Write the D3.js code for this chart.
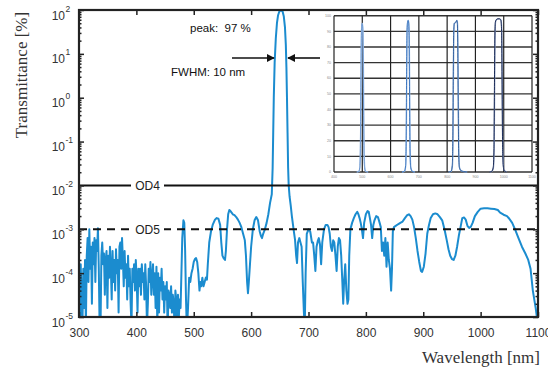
<!DOCTYPE html>
<html><head><meta charset="utf-8">
<script src="https://cdn.jsdelivr.net/npm/d3@7"></script>
<style>body{margin:0;background:#fff}svg{display:block}</style>
</head><body><svg id="c" width="548" height="370"></svg>
<script>
// ---------- data ----------
const wavelengthNm = [300,301.5,303,304.5,306,307.5,309,310.5,312,313.5,315,316.5,318,319.5,321,322.5,324,325.5,327,328.5,330,331.5,333,334.5,336,337.5,339,340.5,342,343.5,345,346.5,348,349.5,351,352.5,354,355.5,357,358.5,360,361.5,363,364.5,366,367.5,369,370.5,372,373.5,375,376.5,378,379.5,381,382.5,384,385.5,387,388.5,390,391.5,393,394.5,396,397.5,399,400.5,402,403.5,405,406.5,408,409.5,411,412.5,414,415.5,417,418.5,420,421.5,423,424.5,426,427.5,429,430.5,432,433.5,435,436.5,438,439.5,441,442.5,444,445.5,447,448.5,450,451.5,453,454.5,456,457.5,459,460.5,462,463.5,465,466.5,468,469.5,471,472.5,474,475.5,477,478.5,480,482,483.5,485,486.5,488,490,492,494,496,498,500,502,504,506,508,510,511.5,513,515,517,519,521,523,524.5,527,530,533,537,540,543,546,548,550,552,554.5,556,558,560,562,564,566,568,571,574,577,580,583,586,589,591,593,594.5,596,598,600,603,606,609,612,615,617,619,621,624,627,630,633,636,637.5,638.5,639.5,641,643,645,647,649,651,653,655,657,659,660.5,661.5,662.5,663.5,664.5,665.5,667,669,671,674,676.5,678.5,680,681.7,684,686,688,690,692,693.5,695,697,700,703,706,708,710,712,714,716.5,718,720,722,724,727,730,733,735,737,739,741,743,745,747,749,751,753,755,757,759,760.5,762,764,766,768,769.5,771,773,776,779,782,785,787,789,791,793,795,797,800,803,805,807,809,811,813,815,818,821,824,826,828,830,832,834,836,838,840,842,844,845.5,847,849,852,856,860,864,868,872,875,878,881,884,887,890,893,896,898,901,904,907,910,913,917,921,925,929,933,937,941,944,947,950,953,956,959,962,965,968,971,974,977,980,983,986,990,995,1000,1006,1012,1018,1024,1030,1034,1040,1046,1050,1055,1060,1066,1072,1078,1083,1087,1091,1096,1100];
const transmittancePct = [5e-5,5e-6,1.6e-4,2.5e-5,6.3e-6,1.26e-4,1.6e-5,2e-4,6.3e-6,2.5e-4,6.3e-4,6.3e-5,1e-3,1.26e-4,4e-4,2e-5,5e-4,1.6e-4,6.3e-4,6.3e-5,5.6e-4,3.2e-4,1.05e-3,1.26e-4,5e-6,5e-6,2.5e-4,5e-4,1.6e-4,2.8e-4,3.2e-5,2e-4,3.2e-4,1.6e-5,2.5e-4,7.9e-5,4e-4,1.26e-4,2.5e-5,3.2e-4,6.3e-5,2e-4,4e-5,3.5e-4,1e-4,2e-4,1.26e-5,4e-4,5e-4,1.26e-4,6.3e-4,2e-4,5e-5,3.2e-4,7.9e-5,1.6e-4,2.5e-5,2.5e-4,5e-5,1.26e-4,2e-5,6.3e-6,1.26e-4,6.3e-5,1.6e-4,4e-5,2e-4,7.9e-5,1.26e-5,1.26e-4,5e-5,1.26e-4,3.2e-5,1.6e-4,6.3e-5,1e-4,2.5e-5,1.6e-4,5e-5,6.3e-6,2e-5,1.26e-4,6.3e-5,1.8e-4,3.2e-5,7.9e-5,1.6e-4,3.2e-5,1e-4,1.6e-5,1.4e-4,6.3e-6,1e-4,1.26e-5,7.9e-5,4e-5,1.26e-4,2.5e-5,6.3e-5,1.26e-5,5e-5,2.5e-5,6.3e-5,5e-6,4e-5,3.2e-5,1.6e-5,5e-5,1.26e-5,3.2e-5,2e-5,6.3e-6,4e-5,2.5e-5,5e-6,3.2e-5,1e-5,2.5e-5,1.6e-5,1e-4,6.3e-4,1.6e-3,1.4e-3,3.2e-4,2.5e-5,5e-6,1.6e-5,7.9e-5,6.3e-5,1e-4,1.26e-4,1.8e-4,2.1e-4,2.2e-4,1.8e-4,1e-4,4e-5,6.3e-5,5e-5,7.9e-5,5e-5,6.3e-5,7.9e-5,7.1e-5,1.6e-4,5e-4,8.9e-4,1.26e-3,1.66e-3,1.8e-3,1.74e-3,1.26e-3,5e-4,2.5e-4,2.2e-4,2e-4,3.2e-4,1e-3,2.2e-3,2.75e-3,2.6e-3,2.4e-3,2.2e-3,2.1e-3,1.9e-3,1.66e-3,1.4e-3,1.12e-3,7.9e-4,5.6e-4,2.5e-4,6.3e-5,3.5e-5,6.3e-5,1.6e-4,4e-4,1e-3,1.6e-3,1.9e-3,1.6e-3,8.9e-4,7.1e-4,6.3e-4,7.9e-4,1e-3,1.4e-3,2.2e-3,4e-3,6.3e-3,0.025,0.158,1,6.3,22.4,50,76,91,97,97,91,71,40,15.8,5,1,0.158,0.025,0.01,5.6e-3,3.5e-3,2e-3,1e-3,5.8e-4,2.5e-4,1.7e-4,5e-4,6.3e-4,5e-4,4e-4,6.3e-5,1.26e-5,6.3e-6,1e-4,7.9e-4,1e-3,8.9e-4,5e-4,5e-4,2.5e-4,1.12e-4,4e-4,5.6e-4,6.3e-4,4.5e-4,1.6e-4,5e-4,1e-3,1.26e-3,1.26e-3,1.12e-3,7.9e-4,4e-4,3.2e-4,5.6e-4,5e-4,2.5e-4,1.12e-4,4e-4,6.3e-4,5.6e-4,2.5e-4,6.3e-5,2e-5,6.3e-5,1.6e-4,4e-5,2e-5,2.5e-5,2.5e-4,1e-3,1.4e-3,1.8e-3,2.2e-3,2.5e-3,2.2e-3,1.8e-3,1.4e-3,1e-3,6.3e-4,1.4e-3,2.2e-3,2.6e-3,2.5e-3,1.8e-3,1.26e-3,6.3e-4,1.26e-3,1.6e-3,2e-3,1.9e-3,1.4e-3,1.12e-3,3.2e-4,5e-4,2.5e-4,6.3e-4,1.4e-4,5e-4,2e-4,1.26e-4,4e-5,1.26e-4,8.9e-4,1.12e-3,1.2e-3,1.3e-3,1.4e-3,1.5e-3,1.8e-3,2.1e-3,2.2e-3,2e-3,1.66e-3,1.12e-3,6.3e-4,3.2e-4,1.8e-4,1.12e-4,1.07e-4,1.4e-4,2.8e-4,7.9e-4,1.26e-3,1.8e-3,2.2e-3,2.3e-3,2.2e-3,1.9e-3,1.6e-3,1e-3,5.6e-4,3.5e-4,2.5e-4,2.1e-4,2e-4,2.5e-4,4e-4,7.1e-4,1.12e-3,1.8e-3,1.86e-3,1.66e-3,1.2e-3,1.07e-3,1.15e-3,1.4e-3,2e-3,2.5e-3,2.95e-3,3e-3,3e-3,2.95e-3,2.9e-3,2.75e-3,2.4e-3,2.15e-3,2e-3,1.74e-3,1.4e-3,1e-3,6.3e-4,4e-4,2.8e-4,2e-4,1.26e-4,4e-5,1.6e-5,6.3e-6];

const xTickValues = [300,400,500,600,700,800,900,1000,1100];
const yTickExponents = [2,1,0,-1,-2,-3,-4,-5];
const odLabels = ["OD4","OD5"];
const odValues = [1e-2,1e-3];
const peakText = "peak:  97 %";
const fwhmText = "FWHM: 10 nm";
const xTitle = "Wavelength [nm]";
const yTitle = "Transmittance [%]";

// inset (filter family) data
const insetXTicks = [400,500,600,700,800,900,1000,1100];
const insetYTicks = [0,10,20,30,40,50,60,70,80,90,100];
const inset500Wl = [480,488,491,493,494.5,496,497.5,499.5,501.5,503,504.5,506,508,511,520];
const inset500T  = [0,0.5,3,15,45,80,93,95,92,75,40,12,3,0.5,0];
const inset660Wl = [640,649,653,655,656.5,658,660,662,664,665.5,667,668.5,671,676,685];
const inset660T  = [0,0.5,4,20,60,90,96,97,95,85,50,15,3,0.5,0];
const inset830Wl = [805,814,818,820,821.5,823,825,828,831,834,836,837.5,839,840.5,843,849,858,870];
const inset830T  = [0,0.5,4,20,60,88,95,95.5,96,97,95,80,45,15,3,0.8,0.3,0];
const inset985Wl = [950,958,963,965.5,967,968.5,970.5,974,979,985,990,992.5,994,995.5,997.5,1001,1010];
const inset985T  = [0,0.5,3,15,50,85,96,97.5,98,98,97,90,60,25,6,1,0];

// ---------- drawing ----------
const svg = d3.select("#c");
const L = 79, R = 538, T = 10, B = 317;
const x = d3.scaleLinear().domain([300,1100]).range([L,R]);
const y = d3.scaleLog().domain([1e-5,1e2]).range([B,T]);
const axisColor = "#222";
const sans = "'Liberation Sans', Arial, sans-serif";
const serif = "'Liberation Serif', 'Times New Roman', serif";

svg.append("defs").append("clipPath").attr("id","plotclip")
  .append("rect").attr("x",L).attr("y",T).attr("width",R-L).attr("height",B-T);

// curve
const series = wavelengthNm.map((w,i)=>({w, t: transmittancePct[i]}));
svg.append("path").datum(series)
  .attr("clip-path","url(#plotclip)")
  .attr("fill","none").attr("stroke","#1b8ccf").attr("stroke-width",2)
  .attr("stroke-linejoin","round")
  .attr("d", d3.line().x(d=>x(d.w)).y(d=>y(d.t)));

// OD lines
odValues.forEach((v,i)=>{
  const yy = y(v);
  const g = svg.append("g");
  g.append("line").attr("x1",L).attr("x2",R).attr("y1",yy).attr("y2",yy)
    .attr("stroke","#111").attr("stroke-width",2)
    .attr("stroke-dasharray", i===0 ? null : "8,6");
  g.append("rect").attr("x",131).attr("y",yy-6).attr("width",33).attr("height",12).attr("fill","#fff");
  g.append("text").attr("x",147.5).attr("y",yy+4.3).attr("text-anchor","middle")
    .attr("font-family",sans).attr("font-size",12).attr("fill","#222").text(odLabels[i]);
});

// Inset
const ins = svg.append("g");
ins.append("rect").attr("x",322).attr("y",11.5).attr("width",215).attr("height",172).attr("fill","#fff");
const ix = d3.scaleLinear().domain([400,1100]).range([334,532]);
const iy = d3.scaleLinear().domain([0,100]).range([172,15.7]);
ins.selectAll("line.gy").data(insetYTicks).join("line")
  .attr("x1",ix(400)).attr("x2",ix(1100)).attr("y1",d=>iy(d)).attr("y2",d=>iy(d))
  .attr("stroke","#333").attr("stroke-width",1.4);
ins.selectAll("line.gx").data(insetXTicks).join("line")
  .attr("y1",iy(0)).attr("y2",iy(100)).attr("x1",d=>ix(d)).attr("x2",d=>ix(d))
  .attr("stroke","#222").attr("stroke-width",1.2);
ins.selectAll("text.ly").data(insetYTicks).join("text")
  .attr("x",ix(400)-3).attr("y",d=>iy(d)+1.2).attr("text-anchor","end")
  .attr("font-family",sans).attr("font-size",3.6).attr("fill","#888").text(d=>d);
ins.selectAll("text.lx").data(insetXTicks).join("text")
  .attr("x",d=>ix(d)).attr("y",iy(0)+6).attr("text-anchor","middle")
  .attr("font-family",sans).attr("font-size",3.6).attr("fill","#888").text(d=>d);
const iline = d3.line().x(d=>ix(d[0])).y(d=>iy(d[1])).curve(d3.curveMonotoneX);
const insetSets = [
  [inset500Wl, inset500T, "#a8c5ea", "#6f9ad2"],
  [inset660Wl, inset660T, "#9dbde6", "#3f78c0"],
  [inset830Wl, inset830T, "#8fb0dc", "#33619f"],
  [inset985Wl, inset985T, "#8d9cbc", "#1c2c58"]
];
insetSets.forEach(([wl,tv,c1,c2])=>{
  const pts = wl.map((w,i)=>[w,tv[i]]);
  ins.append("path").datum(pts.map(p=>[p[0]+0.8,p[1]])).attr("fill","none").attr("stroke",c1).attr("stroke-width",1.3).attr("d",iline);
  ins.append("path").datum(pts).attr("fill","none").attr("stroke",c2).attr("stroke-width",1).attr("d",iline);
});

// axes
function styleAxis(g){
  g.select(".domain").remove();
  g.selectAll("line").attr("stroke",axisColor).attr("stroke-width",1.5);
}
const majorY = yTickExponents.map(e=>Math.pow(10,e));
const minorY = [];
for (let e=-5; e<2; e++) for (let m=2; m<=9; m++) minorY.push(m*Math.pow(10,e));

svg.append("g").attr("transform",`translate(0,${B})`)
  .call(d3.axisBottom(x).tickValues(xTickValues).tickSize(-5).tickPadding(11).tickFormat(d3.format("d")))
  .call(styleAxis)
  .call(g=>g.selectAll("text").attr("font-family",sans).attr("font-size",12).attr("fill","#333"));
svg.append("g").attr("transform",`translate(0,${T})`)
  .call(d3.axisTop(x).tickValues(xTickValues).tickSize(-5).tickFormat(""))
  .call(styleAxis);
const leftAx = svg.append("g").attr("transform",`translate(${L},0)`)
  .call(d3.axisLeft(y).tickValues(majorY).tickSize(-5).tickFormat(""))
  .call(styleAxis);
leftAx.selectAll(".tick").each(function(d,i){
  const g = d3.select(this);
  g.append("text").attr("x",-14).attr("y",9).attr("text-anchor","end")
    .attr("font-family",sans).attr("font-size",12).attr("fill","#333").text("10");
  g.append("text").attr("x",-13.5).attr("y",1).attr("text-anchor","start")
    .attr("font-family",sans).attr("font-size",8.5).attr("fill","#333").text(yTickExponents[i]);
});
svg.append("g").attr("transform",`translate(${L},0)`)
  .call(d3.axisLeft(y).tickValues(minorY).tickSize(-2.5).tickFormat(""))
  .call(styleAxis);
svg.append("g").attr("transform",`translate(${R},0)`)
  .call(d3.axisRight(y).tickValues(majorY).tickSize(-5).tickFormat(""))
  .call(styleAxis);
svg.append("g").attr("transform",`translate(${R},0)`)
  .call(d3.axisRight(y).tickValues(minorY).tickSize(-2.5).tickFormat(""))
  .call(styleAxis);

// frame
svg.append("rect").attr("x",L).attr("y",T).attr("width",R-L).attr("height",B-T)
  .attr("fill","none").attr("stroke",axisColor).attr("stroke-width",2.2);

// annotations
svg.append("text").attr("x",190).attr("y",32).attr("font-family",sans).attr("font-size",11.5)
  .attr("fill","#111").style("white-space","pre").text(peakText);
svg.append("text").attr("x",171).attr("y",76).attr("font-family",sans).attr("font-size",11.5)
  .attr("fill","#111").text(fwhmText);
const defs = svg.select("defs");
defs.append("marker").attr("id","ah").attr("viewBox","0 0 10 10").attr("refX",9).attr("refY",5)
  .attr("markerWidth",5).attr("markerHeight",5).attr("orient","auto")
  .append("path").attr("d","M0,0L10,5L0,10z").attr("fill","#111");
svg.append("line").attr("x1",232).attr("x2",274).attr("y1",58).attr("y2",58)
  .attr("stroke","#111").attr("stroke-width",1.6).attr("marker-end","url(#ah)");
svg.append("line").attr("x1",320).attr("x2",288).attr("y1",58).attr("y2",58)
  .attr("stroke","#111").attr("stroke-width",1.6).attr("marker-end","url(#ah)");

// titles
svg.append("text").attr("transform","translate(27,75) rotate(-90)").attr("text-anchor","middle")
  .attr("font-family",serif).attr("font-size",17).attr("fill","#333").text(yTitle);
svg.append("text").attr("x",540).attr("y",363).attr("text-anchor","end")
  .attr("font-family",serif).attr("font-size",17).attr("fill","#333").text(xTitle);
</script></body></html>
